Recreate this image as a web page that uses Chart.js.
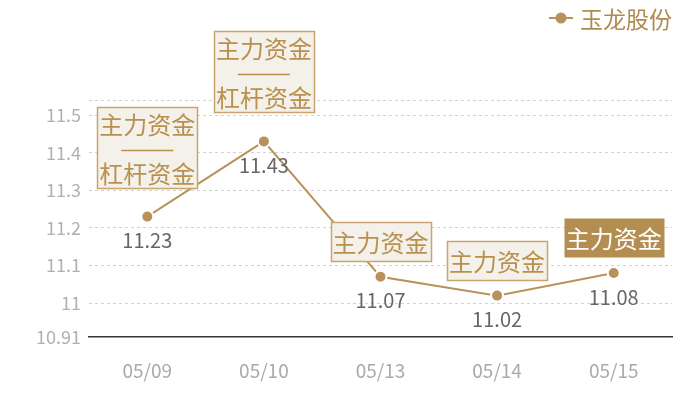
<!DOCTYPE html>
<html><head><meta charset="utf-8">
<script src="https://cdn.jsdelivr.net/npm/chart.js@4.4.1/dist/chart.umd.min.js"></script>
<style>html,body{margin:0;padding:0;background:#fff}#wrap{width:700px;height:400px}</style>
</head><body><div id="wrap"><canvas id="c" width="700" height="400"></canvas></div>
<script>
const categories = ['05/09', '05/10', '05/13', '05/14', '05/15'];
const values = [11.23, 11.43, 11.07, 11.02, 11.08];
const seriesName = '玉龙股份';
const yTicks = [10.91, 11, 11.1, 11.2, 11.3, 11.4, 11.5, 11.54];
const yMin = 10.91, yMax = 11.54;
const notes = [['主力资金', '杠杆资金'], ['主力资金', '杠杆资金'], ['主力资金'], ['主力资金'], ['主力资金']];
const noteHighlighted = [false, false, false, false, true];

const GOLD = '#b8925a';
const FONT = '"Noto Sans CJK SC", "Noto Sans", sans-serif';

const overlay = {
  id: 'overlay',
  afterDatasetsDraw(chart) {
    const ctx = chart.ctx;
    const meta = chart.getDatasetMeta(0);
    ctx.save();
    // value labels
    ctx.font = '20px ' + FONT;
    ctx.fillStyle = '#666';
    ctx.textAlign = 'center';
    ctx.textBaseline = 'middle';
    meta.data.forEach((pt, i) => {
      ctx.fillText(String(values[i]), pt.x, pt.y + 24);
    });
    // annotation boxes
    meta.data.forEach((pt, i) => {
      const lines = notes[i];
      const two = lines.length > 1;
      const w = 100, h = two ? 81 : 39;
      const gap = two ? 29 : 16;
      const x0 = Math.round(pt.x - w / 2) + 0.5;
      const y0 = Math.round(pt.y - gap - h) + 0.5;
      const hl = noteHighlighted[i];
      ctx.fillStyle = hl ? '#b48e50' : '#f4f0ea';
      ctx.fillRect(x0, y0, w, h);
      if (!hl) {
        ctx.strokeStyle = '#c9a56e';
        ctx.lineWidth = 1.5;
        ctx.strokeRect(x0, y0, w, h);
      }
      ctx.fillStyle = hl ? '#ffffff' : '#b8914f';
      ctx.font = '24px ' + FONT;
      ctx.textAlign = 'center';
      ctx.textBaseline = 'middle';
      if (two) {
        ctx.fillText(lines[0], pt.x, y0 + 17);
        ctx.strokeStyle = '#b8914f';
        ctx.lineWidth = 1.5;
        ctx.beginPath();
        ctx.moveTo(pt.x - 26, y0 + 43);
        ctx.lineTo(pt.x + 26, y0 + 43);
        ctx.stroke();
        ctx.fillText(lines[1], pt.x, y0 + 66);
      } else {
        ctx.fillText(lines[0], pt.x, y0 + h / 2 + 0.5);
      }
    });
    // legend
    ctx.strokeStyle = GOLD;
    ctx.lineWidth = 2;
    ctx.beginPath();
    ctx.moveTo(549, 18);
    ctx.lineTo(573, 18);
    ctx.stroke();
    ctx.fillStyle = GOLD;
    ctx.beginPath();
    ctx.arc(561, 18, 5.5, 0, Math.PI * 2);
    ctx.fill();
    ctx.font = '23px ' + FONT;
    ctx.textAlign = 'left';
    ctx.textBaseline = 'middle';
    ctx.fillStyle = '#b08b4f';
    ctx.fillText(seriesName, 580, 19);
    ctx.restore();
  }
};

new Chart(document.getElementById('c'), {
  type: 'line',
  data: {
    labels: categories,
    datasets: [{
      label: seriesName,
      data: values,
      borderColor: GOLD,
      borderWidth: 2,
      backgroundColor: GOLD,
      pointBackgroundColor: GOLD,
      pointBorderColor: '#ffffff',
      pointBorderWidth: 2,
      pointRadius: 6,
      tension: 0,
      fill: false
    }]
  },
  options: {
    responsive: false,
    animation: false,
    devicePixelRatio: 1,
    layout: { padding: { top: 100, right: 28, left: 0, bottom: 0 } },
    plugins: { legend: { display: false }, tooltip: { enabled: false } },
    scales: {
      x: {
        offset: true,
        grid: { display: false, drawTicks: false },
        border: { display: true, color: '#333', width: 1.5 },
        ticks: { color: '#aaa', font: { size: 19, family: FONT }, padding: 22 },
        afterFit(s) { s.height = 63; }
      },
      y: {
        min: yMin, max: yMax,
        afterBuildTicks(s) { s.ticks = yTicks.map(v => ({ value: v })); },
        afterFit(s) { s.width = 89; },
        grid: {
          drawTicks: false,
          color: c => (c.tick && c.tick.value === yMin) ? 'rgba(0,0,0,0)' : '#d2d2d2',
          lineWidth: 1
        },
        border: { display: false, dash: [3, 3] },
        ticks: {
          color: '#b0b0b0',
          padding: 8,
          font: { size: 18, family: FONT },
          callback: v => (v === yMax ? '' : String(v))
        }
      }
    }
  },
  plugins: [overlay]
});
</script>
</body></html>
